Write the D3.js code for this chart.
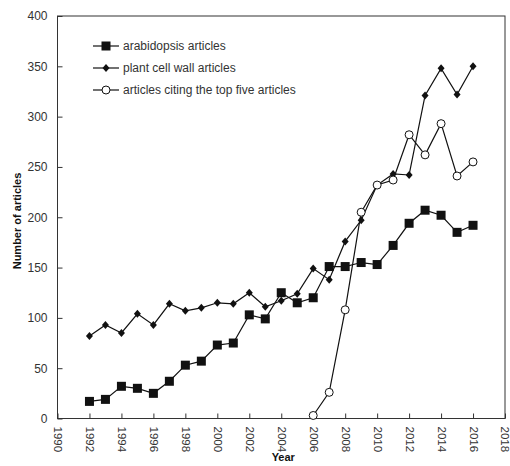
<!DOCTYPE html>
<html>
<head>
<meta charset="utf-8">
<script src="https://cdn.jsdelivr.net/npm/d3@7"></script>
<style>
  body { margin: 0; background: #fff; }
  svg { display: block; font-family: "Liberation Sans", Arial, sans-serif; }
</style>
</head>
<body>
<svg id="chart" width="510" height="466"></svg>
<script>
// Yearly article counts
const years = [1992,1993,1994,1995,1996,1997,1998,1999,2000,2001,2002,2003,2004,2005,2006,2007,2008,2009,2010,2011,2012,2013,2014,2015,2016];
const arabidopsis = [17,19,32,30,25,37,53,57,73,75,103,99,125,115,120,151,151,155,153,172,194,207,202,185,192];
const cellWall = [82,93,85,104,93,114,107,110,115,114,125,111,117,124,149,138,176,197,232,243,242,321,348,322,350];
const citingYears = [2006,2007,2008,2009,2010,2011,2012,2013,2014,2015,2016];
const citing = [3,26,108,205,232,237,282,262,293,241,255];

const xTicks = d3.range(1990, 2019, 2);
const yTicks = d3.range(0, 401, 50);
const seriesNames = ["arabidopsis articles", "plant cell wall articles", "articles citing the top five articles"];

const svg = d3.select("#chart");
const plotLeft = 57.5, plotRight = 505, plotTop = 16, plotBottom = 418.5;
const x = d3.scaleLinear().domain([1990, 2018]).range([plotLeft, plotRight]);
const y = d3.scaleLinear().domain([0, 400]).range([plotBottom, plotTop]);
const ink = "#111";
const textCol = "#333";

// plot frame
svg.append("rect").attr("x", plotLeft).attr("y", plotTop)
  .attr("width", plotRight - plotLeft).attr("height", plotBottom - plotTop)
  .attr("fill", "none").attr("stroke", "#333").attr("stroke-width", 1);

// axes with inward ticks
const xAxis = svg.append("g").attr("transform", `translate(0,${plotBottom})`)
  .call(d3.axisTop(x).tickValues(xTicks).tickSize(5).tickFormat(d3.format("d")));
xAxis.select(".domain").remove();
xAxis.selectAll("line").attr("stroke", "#333");
xAxis.selectAll("text")
  .attr("fill", textCol).attr("font-size", 11.5)
  .attr("transform", "rotate(90)")
  .attr("x", 8).attr("y", 0).attr("dy", "0.35em")
  .attr("text-anchor", "start");

const yAxis = svg.append("g").attr("transform", `translate(${plotLeft},0)`)
  .call(d3.axisRight(y).tickValues(yTicks).tickSize(5));
yAxis.select(".domain").remove();
yAxis.selectAll("line").attr("stroke", "#333");
yAxis.selectAll("text")
  .attr("fill", textCol).attr("font-size", 12)
  .attr("x", -10).attr("text-anchor", "end");

// axis titles
svg.append("text").attr("x", (plotLeft + plotRight) / 2 + 2).attr("y", 461)
  .attr("text-anchor", "middle").attr("font-size", 11).attr("font-weight", "bold")
  .attr("fill", "#111").text("Year");
svg.append("text")
  .attr("transform", "translate(21,221) rotate(-90)")
  .attr("text-anchor", "middle").attr("font-size", 11).attr("font-weight", "bold")
  .attr("fill", "#111").text("Number of articles");

const line = d3.line().x(d => x(d[0])).y(d => y(d[1]));

function drawMarker(g, type, cx, cy) {
  if (type === "square") {
    g.append("rect").attr("x", cx - 4.5).attr("y", cy - 4.5)
      .attr("width", 9).attr("height", 9).attr("fill", ink);
  } else if (type === "diamond") {
    g.append("path")
      .attr("d", `M${cx},${cy - 4}L${cx + 3.5},${cy}L${cx},${cy + 4}L${cx - 3.5},${cy}Z`)
      .attr("fill", ink);
  } else {
    g.append("circle").attr("cx", cx).attr("cy", cy).attr("r", 4)
      .attr("fill", "#fff").attr("stroke", ink).attr("stroke-width", 1);
  }
}

const series = [
  { xs: years, vs: arabidopsis, type: "square" },
  { xs: years, vs: cellWall, type: "diamond" },
  { xs: citingYears, vs: citing, type: "circle" }
];

series.forEach(s => {
  const pts = s.xs.map((yr, i) => [yr, s.vs[i]]);
  const g = svg.append("g");
  g.append("path").attr("d", line(pts)).attr("fill", "none")
    .attr("stroke", ink).attr("stroke-width", 1.2);
  pts.forEach(p => drawMarker(g, s.type, x(p[0]), y(p[1])));
});

// legend
const legendY = [46, 68, 90];
series.forEach((s, i) => {
  const g = svg.append("g");
  g.append("line").attr("x1", 93).attr("x2", 119)
    .attr("y1", legendY[i]).attr("y2", legendY[i])
    .attr("stroke", ink).attr("stroke-width", 1.2);
  drawMarker(g, s.type, 106, legendY[i]);
  g.append("text").attr("x", 123).attr("y", legendY[i]).attr("dy", "0.35em")
    .attr("font-size", 12).attr("fill", textCol).text(seriesNames[i]);
});
</script>
</body>
</html>
